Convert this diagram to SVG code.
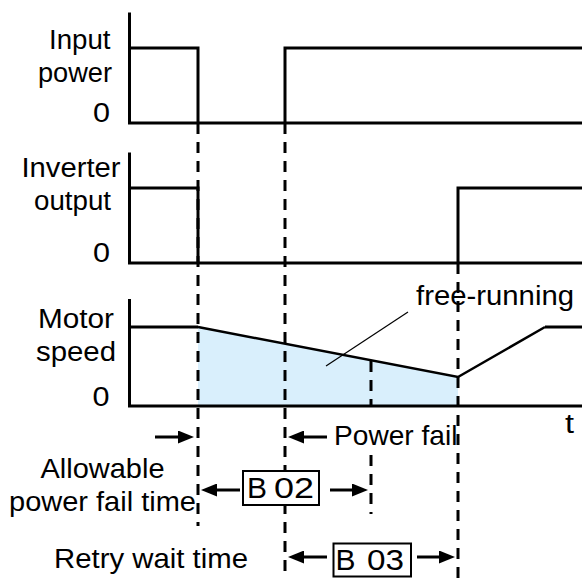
<svg xmlns="http://www.w3.org/2000/svg" width="582" height="578" viewBox="0 0 582 578">
<style>
text{font-family:"Liberation Sans",Arial,Helvetica,sans-serif;font-size:27.5px;fill:#000}
.s{fill:none;stroke:#000;stroke-width:3;stroke-linecap:butt;stroke-linejoin:miter}
.d{fill:none;stroke:#000;stroke-width:3;stroke-dasharray:11 8}
.a{fill:none;stroke:#000;stroke-width:3}
.box{fill:#fff;stroke:#000;stroke-width:2}
.bt{font-size:29px}
</style>
<defs>
<marker id="ah" viewBox="0 0 16 13" refX="10" refY="6.5" markerWidth="16" markerHeight="13" markerUnits="userSpaceOnUse" orient="auto">
<path d="M0,0 L16,6.5 L0,13 Z" fill="#000"/>
</marker>
</defs>
<rect width="582" height="578" fill="#fff"/>

<g id="fill-area">
<polygon points="198,327 458,377 458,406 198,406" fill="#d9effc"/>
</g>

<g id="connectors">
<line class="d" x1="198" y1="123" x2="198" y2="526"/>
<line class="d" x1="285" y1="123" x2="285" y2="578"/>
<line class="d" x1="458" y1="263" x2="458" y2="578"/>
<line class="d" x1="371" y1="361" x2="371" y2="406"/>
<line class="d" x1="371" y1="455" x2="371" y2="514"/>
<line x1="408" y1="312" x2="326" y2="366" stroke="#000" stroke-width="1.2"/>
<line class="a" x1="155" y1="437" x2="188" y2="437" marker-end="url(#ah)"/>
<line class="a" x1="327" y1="437" x2="294" y2="437" marker-end="url(#ah)"/>
<line class="a" x1="240" y1="490" x2="207" y2="490" marker-end="url(#ah)"/>
<line class="a" x1="330" y1="490" x2="362" y2="490" marker-end="url(#ah)"/>
<line class="a" x1="327" y1="557" x2="294" y2="557" marker-end="url(#ah)"/>
<line class="a" x1="417" y1="557" x2="449" y2="557" marker-end="url(#ah)"/>
</g>

<g id="input-power">
<path class="s" d="M129.5,12.5 V123 H582"/>
<path class="s" d="M129.5,48 H198 V123"/>
<path class="s" d="M285,123 V48 H582"/>
<text x="49" y="49" textLength="61.5" lengthAdjust="spacingAndGlyphs">Input</text>
<text x="38" y="82" textLength="74" lengthAdjust="spacingAndGlyphs">power</text>
<text x="93" y="122" textLength="17" lengthAdjust="spacingAndGlyphs">0</text>
</g>

<g id="inverter-output">
<path class="s" d="M129.5,152.5 V263 H582"/>
<path class="s" d="M129.5,188 H198 V263"/>
<path class="s" d="M458,263 V188 H582"/>
<text x="21.5" y="177" textLength="99" lengthAdjust="spacingAndGlyphs">Inverter</text>
<text x="34" y="210" textLength="77" lengthAdjust="spacingAndGlyphs">output</text>
<text x="93" y="262" textLength="17" lengthAdjust="spacingAndGlyphs">0</text>
</g>

<g id="motor-speed">
<path class="s" d="M129.5,299 V406 H582"/>
<path d="M129.5,327 H198" class="s"/>
<path d="M198,327 L458,377 L545,327" fill="none" stroke="#000" stroke-width="2.5" stroke-linejoin="miter"/>
<path d="M545,327 H582" class="s"/>
<text x="38" y="328" textLength="76" lengthAdjust="spacingAndGlyphs">Motor</text>
<text x="36" y="361" textLength="80" lengthAdjust="spacingAndGlyphs">speed</text>
<text x="92.5" y="406" textLength="17" lengthAdjust="spacingAndGlyphs">0</text>
<text x="416" y="305" textLength="158" lengthAdjust="spacingAndGlyphs">free-running</text>
<text x="565" y="433" textLength="9" lengthAdjust="spacingAndGlyphs">t</text>
</g>

<g id="power-fail">
<text x="334" y="445" textLength="123.5" lengthAdjust="spacingAndGlyphs">Power fail</text>
</g>

<g id="allowable">
<text x="40.5" y="478" textLength="124" lengthAdjust="spacingAndGlyphs">Allowable</text>
<text x="9" y="511" textLength="187" lengthAdjust="spacingAndGlyphs">power fail time</text>
</g>

<g id="b02">
<rect class="box" x="243" y="471" width="76" height="34"/>
<text class="bt" y="497.5"><tspan x="247" textLength="20" lengthAdjust="spacingAndGlyphs">B</tspan> <tspan x="274" textLength="40" lengthAdjust="spacingAndGlyphs">02</tspan></text>
</g>

<g id="retry">
<text x="54" y="568" textLength="194" lengthAdjust="spacingAndGlyphs">Retry wait time</text>
</g>

<g id="b03">
<rect class="box" x="333.5" y="543.5" width="77.5" height="33"/>
<text class="bt" y="570"><tspan x="335.5" textLength="20" lengthAdjust="spacingAndGlyphs">B</tspan> <tspan x="367" textLength="37" lengthAdjust="spacingAndGlyphs">03</tspan></text>
</g>
</svg>
